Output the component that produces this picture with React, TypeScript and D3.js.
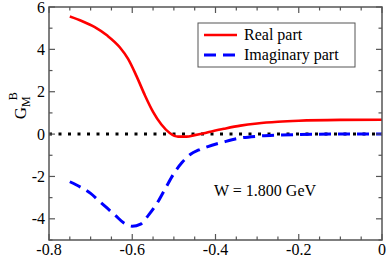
import React, { useRef, useEffect } from 'react';
import * as d3 from 'd3';

const realX = [-0.75, -0.72, -0.69, -0.66, -0.63, -0.61, -0.59, -0.57, -0.55, -0.53, -0.51, -0.49, -0.47, -0.45, -0.42, -0.38, -0.34, -0.3, -0.25, -0.2, -0.1, 0];
const realY = [5.55, 5.33, 5.05, 4.65, 4.1, 3.55, 2.75, 1.85, 1.05, 0.45, 0.05, -0.12, -0.12, -0.05, 0.08, 0.25, 0.4, 0.5, 0.58, 0.63, 0.67, 0.68];

const imagX = [-0.75, -0.72, -0.7, -0.68, -0.66, -0.64, -0.62, -0.6, -0.58, -0.56, -0.54, -0.52, -0.5, -0.48, -0.46, -0.44, -0.42, -0.38, -0.35, -0.3, -0.25, -0.2, -0.1, 0];
const imagY = [-2.25, -2.55, -2.8, -3.15, -3.5, -3.85, -4.2, -4.35, -4.25, -3.8, -3.25, -2.55, -1.86, -1.33, -0.95, -0.75, -0.6, -0.37, -0.22, -0.1, -0.05, -0.02, 0, 0];

const xTicks = [-0.8, -0.6, -0.4, -0.2, 0];
const xTickLabels = ['-0.8', '-0.6', '-0.4', '-0.2', '0'];
const yTicks = [-4, -2, 0, 2, 4, 6];

const legendLabels = ['Real part', 'Imaginary part'];
const note = 'W = 1.800 GeV';

const App: React.FC = () => {
    const svgRef = useRef<SVGSVGElement | null>(null);

    useEffect(() => {
        if (!svgRef.current) return;
        const width = 388;
        const height = 258;
        const m = { left: 49, right: 6, top: 7, bottom: 18 };

        const svg = d3.select(svgRef.current);
        svg.selectAll('*').remove();

        const x = d3.scaleLinear().domain([-0.8, 0]).range([m.left, width - m.right]);
        const y = d3.scaleLinear().domain([-5, 6]).range([height - m.bottom, m.top]);
        const font = "'Liberation Serif', 'Times New Roman', serif";
        const axisColor = '#555';

        // zero line
        svg.append('line')
            .attr('x1', x(-0.8)).attr('x2', x(0))
            .attr('y1', y(0)).attr('y2', y(0))
            .attr('stroke', '#000').attr('stroke-width', 3)
            .attr('stroke-dasharray', '3,6.5');

        const line = (xs: number[], ys: number[]) =>
            d3.line<number>()
                .x((_, i) => x(xs[i]))
                .y(d => y(d))
                .curve(d3.curveMonotoneX)(ys);

        svg.append('path')
            .attr('d', line(realX, realY))
            .attr('fill', 'none').attr('stroke', '#ff0000').attr('stroke-width', 2.6);

        svg.append('path')
            .attr('d', line(imagX, imagY))
            .attr('fill', 'none').attr('stroke', '#0000ff').attr('stroke-width', 3)
            .attr('stroke-dasharray', '12,7');

        // frame
        svg.append('rect')
            .attr('x', x(-0.8)).attr('y', y(6))
            .attr('width', x(0) - x(-0.8)).attr('height', y(-5) - y(6))
            .attr('fill', 'none').attr('stroke', axisColor).attr('stroke-width', 1.5);

        const ticks = svg.append('g').attr('stroke', axisColor).attr('stroke-width', 1.2);
        d3.range(-0.8, 0.0001, 0.05).forEach(v => {
            const major = Math.abs(Math.round(v * 5) - v * 5) < 1e-6;
            const len = major ? 6 : 3.5;
            ticks.append('line').attr('x1', x(v)).attr('x2', x(v)).attr('y1', y(-5)).attr('y2', y(-5) - len);
            ticks.append('line').attr('x1', x(v)).attr('x2', x(v)).attr('y1', y(6)).attr('y2', y(6) + len);
        });
        d3.range(-5, 6.0001, 1).forEach(v => {
            const major = v % 2 === 0;
            const len = major ? 6 : 3.5;
            ticks.append('line').attr('x1', x(-0.8)).attr('x2', x(-0.8) + len).attr('y1', y(v)).attr('y2', y(v));
            ticks.append('line').attr('x1', x(0)).attr('x2', x(0) - len).attr('y1', y(v)).attr('y2', y(v));
        });

        svg.append('g').selectAll('text').data(xTicks).join('text')
            .attr('x', d => x(d)).attr('y', height - 3)
            .attr('text-anchor', 'middle')
            .attr('font-family', font).attr('font-size', 16)
            .text((_, i) => xTickLabels[i]);

        svg.append('g').selectAll('text').data(yTicks).join('text')
            .attr('x', m.left - 4).attr('y', d => y(d) + 5.5)
            .attr('text-anchor', 'end')
            .attr('font-family', font).attr('font-size', 16)
            .text(d => String(d));

        // y label
        const yl = svg.append('text')
            .attr('transform', `translate(26,${y(0.7)}) rotate(-90)`)
            .attr('font-family', font).attr('font-size', 17);
        yl.append('tspan').text('G');
        yl.append('tspan').attr('font-size', 12).attr('dy', 4).text('M');
        yl.append('tspan').attr('font-size', 12).attr('dx', -4).attr('dy', -13).text('B');

        // legend
        const lg = svg.append('g');
        lg.append('rect')
            .attr('x', 198).attr('y', 23).attr('width', 157).attr('height', 44)
            .attr('fill', '#fff').attr('stroke', axisColor).attr('stroke-width', 1);
        lg.append('line').attr('x1', 204).attr('x2', 237).attr('y1', 35).attr('y2', 35)
            .attr('stroke', '#ff0000').attr('stroke-width', 2.6);
        lg.append('line').attr('x1', 204).attr('x2', 237).attr('y1', 55).attr('y2', 55)
            .attr('stroke', '#0000ff').attr('stroke-width', 3).attr('stroke-dasharray', '12,7');
        lg.selectAll('text.l').data(legendLabels).join('text')
            .attr('x', 244).attr('y', (_, i) => 40 + i * 20)
            .attr('font-family', font).attr('font-size', 16)
            .text(d => d);

        svg.append('text')
            .attr('x', 214).attr('y', 196)
            .attr('font-family', font).attr('font-size', 16)
            .text(note);
    }, []);

    return <svg ref={svgRef} width={388} height={258}
        style={{ position: 'absolute', left: 0, top: 0, background: '#fff' }} />;
};

export default App;
